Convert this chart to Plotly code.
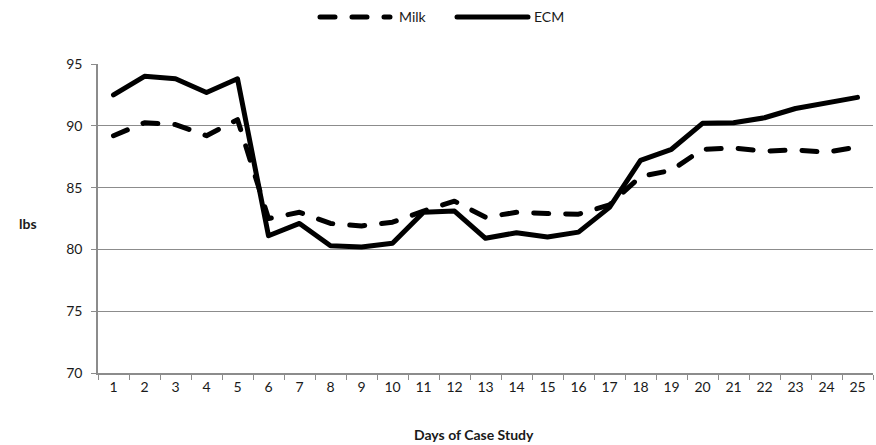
import plotly.graph_objects as go

days = [str(d) for d in range(1, 26)]
milk = [89.2, 90.25, 90.1, 89.2, 90.5, 82.5, 83.0, 82.1, 81.9, 82.2, 83.1, 83.9, 82.6,
        83.0, 82.9, 82.85, 83.6, 85.9, 86.4, 88.1, 88.2, 87.95, 88.05, 87.85, 88.3]
ecm = [92.5, 94.0, 93.8, 92.7, 93.8, 81.1, 82.1, 80.3, 80.2, 80.5, 83.0, 83.1, 80.9,
       81.35, 81.0, 81.4, 83.4, 87.2, 88.1, 90.2, 90.25, 90.65, 91.4, 91.8, 92.3]
y_ticks = [70, 75, 80, 85, 90, 95]
series_names = ["Milk", "ECM"]

FONT = "Lato"
GRID = "#8c8c8c"
MILK_DASH = "15px,17px"

fig = go.Figure()
fig.add_trace(go.Scatter(x=days, y=milk, name=series_names[0], mode="lines",
                         line=dict(color="black", width=5, dash=MILK_DASH)))
fig.add_trace(go.Scatter(x=days, y=ecm, name=series_names[1], mode="lines",
                         line=dict(color="black", width=5)))

# custom legend (wider samples like the reference)
W, L, T, H = 876, 98, 64, 309
def px(xp):
    return (xp - L) / (W - L - 3)
ly = 1 + (T - 17) / H
shapes = [
    dict(type="line", xref="paper", yref="paper", x0=px(320), x1=px(390), y0=ly, y1=ly,
         line=dict(color="black", width=5, dash=MILK_DASH)),
    dict(type="line", xref="paper", yref="paper", x0=px(457), x1=px(528), y0=ly, y1=ly,
         line=dict(color="black", width=5)),
]
annotations = [
    dict(text=series_names[0], xref="paper", yref="paper", x=px(397), y=ly,
         xanchor="left", yanchor="middle", showarrow=False, font=dict(size=14)),
    dict(text=series_names[1], xref="paper", yref="paper", x=px(532), y=ly,
         xanchor="left", yanchor="middle", showarrow=False, font=dict(size=14)),
    dict(text="<b>lbs</b>", xref="paper", yref="paper", x=-0.09, y=0.485,
         xanchor="center", yanchor="middle", showarrow=False, font=dict(size=14)),
    dict(text="<b>Days of Case Study</b>", xref="paper", yref="paper", x=0.485,
         y=-0.2, xanchor="center", yanchor="middle", showarrow=False,
         font=dict(size=14)),
]

fig.update_layout(
    width=876, height=445,
    margin=dict(l=98, r=3, t=64, b=72),
    paper_bgcolor="white", plot_bgcolor="white",
    font=dict(family=FONT, size=14, color="#1a1a1a"),
    showlegend=False,
    xaxis=dict(type="category", range=[-0.5, 24.5], tickson="boundaries",
               ticks="outside", ticklen=5,
               tickcolor=GRID, showline=True, linecolor=GRID, linewidth=1.5,
               showgrid=False, tickfont=dict(size=14), zeroline=False),
    yaxis=dict(range=[70, 95], tickvals=y_ticks, ticks="outside", ticklen=5,
               tickcolor=GRID, showline=True, linecolor=GRID, linewidth=1.5,
               showgrid=True, gridcolor=GRID, gridwidth=1, tickfont=dict(size=14),
               zeroline=False, ticklabelstandoff=6),
    shapes=shapes,
    annotations=annotations,
)

fig.write_html("out.html", config={"displayModeBar": False},
               post_script="document.body.style.margin='0';document.querySelectorAll('.scatterlayer path.js-line, .shapelayer path').forEach(function(p){p.style.strokeLinecap='round';p.style.strokeLinejoin='round';});")
